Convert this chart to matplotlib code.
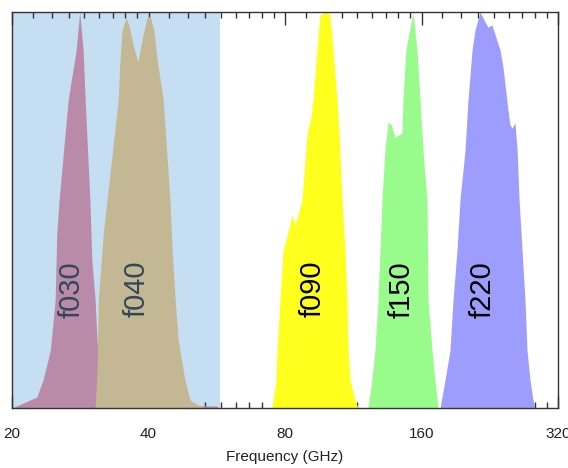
import numpy as np
import matplotlib
matplotlib.use('Agg')
import matplotlib.pyplot as plt
from matplotlib.ticker import FixedLocator, NullFormatter, NullLocator

plt.rcParams['font.family'] = ['Liberation Sans', 'DejaVu Sans']

# ── band passes (frequency in GHz, relative response) ─────
f030_freq = [20.0, 22.7, 23.1, 23.4, 24.3, 24.9, 25.1, 25.4, 26.6, 27.7, 28.2,
             28.7, 29.0, 29.7, 30.0, 30.5, 30.8, 31.3, 31.8, 32.9, 40.0, 56.6, 57.0]
f030_resp = [0.0, 0.028, 0.053, 0.07, 0.146, 0.273, 0.44, 0.525, 0.778, 0.904, 1.0,
             0.904, 0.778, 0.525, 0.374, 0.273, 0.172, 0.071, 0.02, 0.008, 0.006, 0.005, 0.0]

f040_freq = [30.5, 30.8, 31.0, 31.8, 32.4, 34.3, 34.6, 35.0, 35.7, 36.2, 37.0, 37.9,
             38.9, 39.7, 40.3, 41.1, 41.8, 43.1, 44.6, 45.1, 45.8, 46.5, 48.1, 49.4,
             51.9, 53.5]
f040_resp = [0.0, 0.096, 0.273, 0.442, 0.525, 0.778, 0.879, 0.955, 0.985, 0.967, 0.917, 0.874,
             0.942, 0.985, 0.99, 0.955, 0.879, 0.778, 0.525, 0.399, 0.273, 0.172, 0.071, 0.02,
             0.005, 0.0]

f090_freq = [74.9, 76.4, 76.8, 78.0, 79.2, 80.4, 82.9, 84.2, 87.2, 89.5, 91.3, 92.2,
             94.1, 95.5, 98.0, 100.5, 102.1, 104.2, 105.3, 106.9, 108.5, 109.6, 110.2,
             111.3, 114.1, 115.9]
f090_resp = [0.0, 0.071, 0.146, 0.273, 0.399, 0.424, 0.487, 0.462, 0.525, 0.694, 0.735, 0.778,
             0.904, 0.992, 1.0, 0.995, 0.904, 0.778, 0.694, 0.525, 0.399, 0.273, 0.146,
             0.071, 0.02, 0.0]

f150_freq = [121.9, 124.4, 126.3, 128.3, 129.6, 130.9, 132.9, 135.0, 137.2, 139.9,
             144.9, 145.6, 147.8, 153.2, 156.4, 158.8, 161.2, 164.5, 165.4, 168.8,
             171.3, 174.0]
f150_resp = [0.0, 0.071, 0.146, 0.273, 0.399, 0.525, 0.652, 0.722, 0.715, 0.684,
             0.694, 0.778, 0.904, 1.0, 0.904, 0.778, 0.652, 0.525, 0.273, 0.146,
             0.071, 0.0]

f220_freq = [175.8, 180.3, 184.9, 187.8, 191.6, 194.5, 199.6, 202.6, 206.8, 210.0,
             215.4, 219.8, 224.2, 228.8, 238.4, 242.0, 248.2, 250.8, 253.5, 257.2,
             260.0, 262.6, 266.6, 270.6, 273.4, 277.6, 281.8, 284.6]
f220_resp = [0.0, 0.071, 0.146, 0.273, 0.399, 0.525, 0.652, 0.778, 0.904, 0.955,
             1.0, 0.98, 0.962, 0.967, 0.904, 0.861, 0.753, 0.715, 0.707, 0.72,
             0.652, 0.525, 0.399, 0.273, 0.146, 0.071, 0.02, 0.0]

bands = [
    ('f030', f030_freq, f030_resp, '#ba8ba8', 27.1, '#2f4858'),
    ('f040', f040_freq, f040_resp, '#c3b794', 37.7, '#2f4858'),
    ('f090', f090_freq, f090_resp, '#ffff1e', 92.2, 'black'),
    ('f150', f150_freq, f150_resp, '#99fb8c', 144.9, 'black'),
    ('f220', f220_freq, f220_resp, '#9d9dfd', 218.7, 'black'),
]

shade_lo, shade_hi = 20.0, 57.5
major_ticks = [20, 40, 80, 160, 320]

fig = plt.figure(figsize=(5.68, 4.68), dpi=100)
ax = fig.add_axes([12/568, 60/468, 546/568, 396/468])

ax.axvspan(shade_lo, shade_hi, color='#c5def2', zorder=0.2, lw=0)
for name, fr, rs, col, xl, tcol in bands:
    ax.fill_between(fr, 0, rs, color=col, lw=0, zorder=1)
    ax.text(xl, 0.30, name, rotation=90, ha='center', va='center',
            fontsize=21, color=tcol, zorder=3)

ax.set_xscale('log', base=2)
ax.set_xlim(20, 320)
ax.set_ylim(0, 1)
ax.set_axisbelow(True)

# minor ticks: each octave cut into 9 equal steps
minor = []
for lo in major_ticks[:-1]:
    minor += [lo + lo * k / 9 for k in range(1, 9)]
ax.xaxis.set_major_locator(FixedLocator(major_ticks))
ax.xaxis.set_minor_locator(FixedLocator(minor))
ax.xaxis.set_minor_formatter(NullFormatter())
ax.set_xticklabels([str(t) for t in major_ticks])
ax.yaxis.set_major_locator(NullLocator())
ax.yaxis.set_minor_locator(NullLocator())

ax.tick_params(axis='x', which='both', direction='in', top=True, bottom=True,
               colors='#333333', labelcolor='#222222', labelsize=11, pad=14)
ax.tick_params(axis='x', which='major', length=9, width=1)
ax.tick_params(axis='x', which='minor', length=4, width=1)
for s in ax.spines.values():
    s.set_color('#333333')
    s.set_linewidth(1)

ax.set_xlabel('Frequency (GHz)', fontsize=11, color='#222222', labelpad=6)

plt.savefig('out.png', dpi=100)
plt.close()
